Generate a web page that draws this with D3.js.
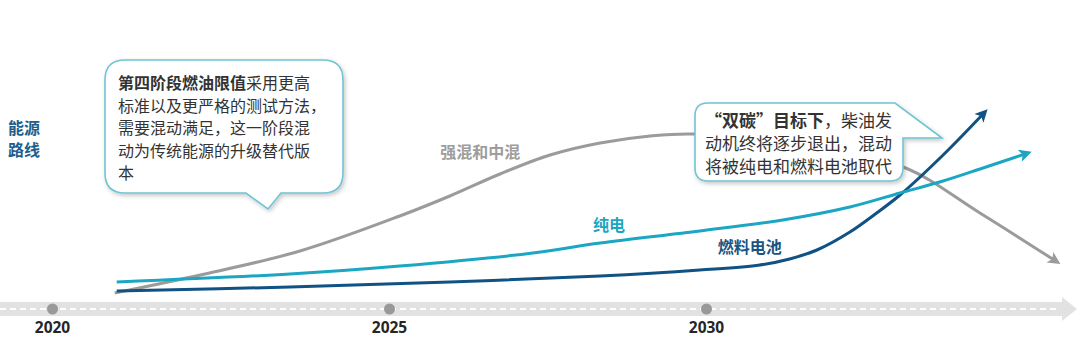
<!DOCTYPE html>
<html><head><meta charset="utf-8">
<script src="https://cdn.jsdelivr.net/npm/d3@7/dist/d3.min.js"></script>
<style>
html,body{margin:0;padding:0;background:#fff;}
svg{display:block;font-family:"Noto Sans CJK SC","Noto Sans",sans-serif;}
</style></head>
<body>
<svg id="chart" width="1080" height="359"></svg>
<script>
// ---- data ----
const tickYears = [2020, 2025, 2030];
const tickLabels = ["2020", "2025", "2030"];

// 强混和中混 (year, index)
const hybrid = [[2020.93,3.5],[2022.2,12.5],[2023.68,24.5],[2025.17,42],[2025.96,52],[2026.75,63],[2027.54,72.5],[2028.33,78.5],[2029.12,82],[2029.8,83],[2031.48,77.5],[2033.11,66.5],[2034.32,43.5],[2035.54,19]];
// 纯电
const bev = [[2020.96,9],[2023.53,13],[2025.17,17],[2027.27,23.5],[2028.33,28.5],[2029.9,34.5],[2031.21,40],[2032.27,46.5],[2033.06,53.5],[2033.74,59.5],[2034.37,66],[2035.08,73.5]];
// 燃料电池
const fcv = [[2020.96,4.5],[2023.53,6.5],[2025.96,9],[2028.33,12],[2029.9,15],[2030.85,17.5],[2031.32,20.5],[2031.75,25],[2032.27,34],[2032.67,43],[2033.06,52.5],[2033.74,72.5],[2034.4,94]];

const seriesNames = ["强混和中混", "纯电", "燃料电池"];
const seriesLabelPos = [[2026.44,71],[2028.47,34.5],[2030.69,23.5]];

const sideLabel = ["能源", "路线"];
const note1 = [[{t:"第四阶段燃油限值",b:true},{t:"采用更高"}],[{t:"标准以及更严格的测试方法，"}],[{t:"需要混动满足，这一阶段混"}],[{t:"动为传统能源的升级替代版"}],[{t:"本"}]];
const note2 = [[{t:"“双碳”目标下",b:true},{t:"，柴油发"}],[{t:"动机终将逐步退出，混动"}],[{t:"将被纯电和燃料电池取代"}]];

// ---- drawing ----
const svg = d3.select("#chart");
const x = d3.scaleLinear().domain([2020, 2025, 2030]).range([52, 389, 706]);
const y = d3.scaleLinear().domain([0, 100]).range([300, 100]);

const colors = ["#9b9b9b", "#1ba6c3", "#105283"];
const textColors = ["#9d9d9d", "#1ba6c3", "#1b5483"];

const defs = svg.append("defs");
colors.forEach((c,i)=>{
  defs.append("marker").attr("id","arr"+i).attr("viewBox","0 0 10 10")
    .attr("refX",7).attr("refY",5).attr("markerWidth",4.2).attr("markerHeight",4.2)
    .attr("orient","auto").append("path").attr("d","M0,0L10,5L0,10L2.5,5Z").attr("fill",c);
});
const f = defs.append("filter").attr("id","sh").attr("x","-10%").attr("y","-10%").attr("width","125%").attr("height","130%");
f.append("feDropShadow").attr("dx",1.5).attr("dy",2).attr("stdDeviation",2).attr("flood-color","#000").attr("flood-opacity",0.22);

// timeline band
const bandY = 309;
svg.append("rect").attr("x",0).attr("y",bandY-7).attr("width",1063).attr("height",14).attr("fill","#e2e2e2");
svg.append("path").attr("d",`M1062,${bandY-12}L1077,${bandY}L1062,${bandY+12}Z`).attr("fill","#e2e2e2");
svg.append("line").attr("x1",0).attr("x2",1060).attr("y1",bandY).attr("y2",bandY)
  .attr("stroke","#fff").attr("stroke-width",2).attr("stroke-dasharray","6,4");

const axis = d3.axisBottom(x).tickValues(tickYears).tickFormat((d,i)=>tickLabels[i]).tickSize(0).tickPadding(13);
const ax = svg.append("g").attr("transform",`translate(0,${bandY})`).call(axis);
ax.select(".domain").remove();
ax.selectAll("text").attr("font-family","'Noto Sans',sans-serif").attr("font-size",15.5).attr("font-weight",700).attr("fill","#262626");
ax.selectAll(".tick").append("circle").attr("r",5.5).attr("fill","#999");

// side label
sideLabel.forEach((t,i)=>{
  svg.append("text").attr("x",8).attr("y",134+i*22).text(t)
    .attr("font-size",16).attr("font-weight",700).attr("fill","#1f5e8c");
});

// lines
const line = d3.line().x(d=>x(d[0])).y(d=>y(d[1])).curve(d3.curveCatmullRom.alpha(0.5));
[hybrid, fcv, bev].forEach((s)=>{
  const i = s===hybrid?0:(s===bev?1:2);
  svg.append("path").datum(s).attr("d",line).attr("fill","none")
    .attr("stroke",colors[i]).attr("stroke-width",3).attr("marker-end",`url(#arr${i})`);
});

// series labels
seriesNames.forEach((n,i)=>{
  svg.append("text").attr("x",x(seriesLabelPos[i][0])).attr("y",y(seriesLabelPos[i][1]))
    .attr("text-anchor","middle").attr("font-size",16).attr("font-weight",700)
    .attr("fill",textColors[i]).text(n);
});

// callouts
function box1Path(l,t,r,b,rad){
  return `M${l+rad},${t}L${r-rad},${t}Q${r},${t} ${r},${t+rad}L${r},${b-rad}Q${r},${b} ${r-rad},${b}`+
    `L281,${b}L268,${b+16}L246,${b}L${l+rad},${b}Q${l},${b} ${l},${b-rad}L${l},${t+rad}Q${l},${t} ${l+rad},${t}Z`;
}
function box2Path(l,t,r,b,rad){
  return `M${l+rad},${t}L${r-8},${t}L${r+39},${t+35}L${r},${t+35}L${r},${b-rad}Q${r},${b} ${r-rad},${b}`+
    `L${l+rad},${b}Q${l},${b} ${l},${b-rad}L${l},${t+rad}Q${l},${t} ${l+rad},${t}Z`;
}
svg.append("path").attr("d",box1Path(105,60,343,193,20)).attr("fill","#fff")
  .attr("stroke","#6fc4d4").attr("stroke-width",1.6).attr("filter","url(#sh)");
svg.append("path").attr("d",box2Path(695,103,903,181,13)).attr("fill","#fff")
  .attr("stroke","#6fc4d4").attr("stroke-width",1.6).attr("filter","url(#sh)");

function writeNote(lines,x0,y0,dy,fs){
  lines.forEach((ln,i)=>{
    const t = svg.append("text").attr("x",x0).attr("y",y0+i*dy).attr("font-size",fs).attr("fill","#333");
    ln.forEach(p=>t.append("tspan").text(p.t).attr("font-weight",p.b?700:400));
  });
}
writeNote(note1,118,89,22.5,16);
writeNote(note2,705,127,23,17);
</script>
</body></html>
